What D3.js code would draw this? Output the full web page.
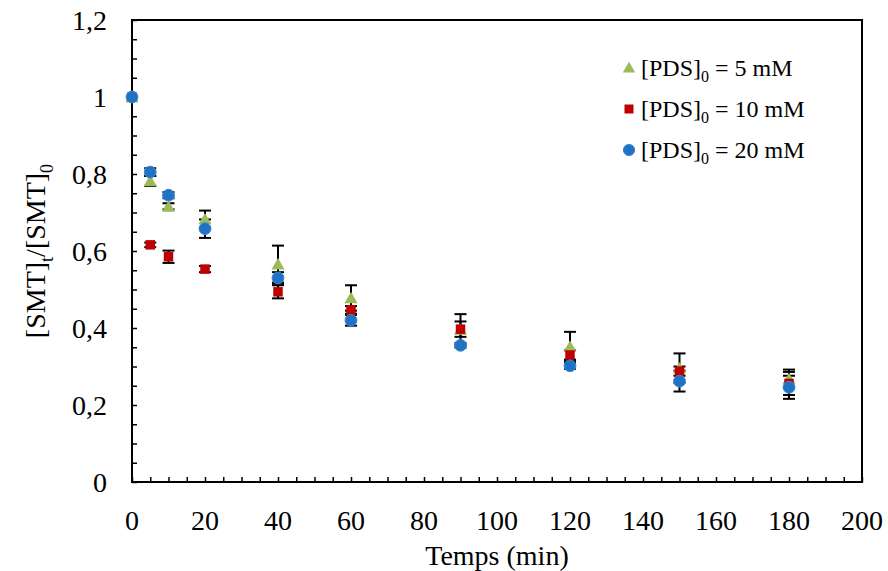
<!DOCTYPE html>
<html>
<head>
<meta charset="utf-8">
<script src="https://cdn.jsdelivr.net/npm/d3@7"></script>
<style>
  body { margin: 0; background: #fff; }
  svg text { font-family: "Liberation Serif", "Times New Roman", serif; fill: #000; }
</style>
</head>
<body>
<div id="chart"></div>
<script>
// time points (min)
const times = [0, 5, 10, 20, 40, 60, 90, 120, 150, 180];

// [SMT]t/[SMT]0 for each PDS dose, with error bars
const pds5 = [1.0, 0.782, 0.716, 0.683, 0.566, 0.478, 0.396, 0.352, 0.296, 0.268];
const pds5Err = [0, 0.013, 0.008, 0.022, 0.048, 0.033, 0.04, 0.038, 0.038, 0.024];
const pds10 = [1.0, 0.616, 0.585, 0.553, 0.494, 0.447, 0.397, 0.33, 0.288, 0.256];
const pds10Err = [0, 0.006, 0.016, 0.008, 0.017, 0.01, 0.02, 0.012, 0.012, 0.03];
const pds20 = [1.0, 0.805, 0.745, 0.658, 0.53, 0.42, 0.355, 0.302, 0.262, 0.246];
const pds20Err = [0, 0.01, 0.008, 0.024, 0.015, 0.014, 0.006, 0.008, 0.027, 0.03];

const seriesNames = ["[PDS]0 = 5 mM", "[PDS]0 = 10 mM", "[PDS]0 = 20 mM"];
const xTicks = [0, 20, 40, 60, 80, 100, 120, 140, 160, 180, 200];
const yTicks = [0, 0.2, 0.4, 0.6, 0.8, 1, 1.2];

const width = 888, height = 571;
const margin = {top: 20, right: 26, bottom: 89, left: 132};

const svg = d3.select("#chart").append("svg")
    .attr("width", width)
    .attr("height", height);

const x = d3.scaleLinear().domain([0, 200]).range([margin.left, width - margin.right]);
const y = d3.scaleLinear().domain([0, 1.2]).range([height - margin.bottom, margin.top]);

const fmt = d => d3.format("~g")(d).replace(".", ",");

// minor ticks
svg.append("g")
    .attr("transform", `translate(${margin.left},0)`)
    .call(d3.axisRight(y).tickValues(d3.range(0, 1.2001, 0.05)).tickSize(5).tickFormat(""))
    .call(g => g.select(".domain").remove())
    .selectAll("line").attr("stroke", "#000").attr("stroke-width", 1.5);

svg.append("g")
    .attr("transform", `translate(0,${height - margin.bottom})`)
    .call(d3.axisTop(x).tickValues(d3.range(0, 201, 5)).tickSize(5).tickFormat(""))
    .call(g => g.select(".domain").remove())
    .selectAll("line").attr("stroke", "#000").attr("stroke-width", 1.5);

// frame
svg.append("rect")
    .attr("x", margin.left)
    .attr("y", margin.top)
    .attr("width", width - margin.left - margin.right)
    .attr("height", height - margin.top - margin.bottom)
    .attr("fill", "none")
    .attr("stroke", "#000")
    .attr("stroke-width", 2);

// tick labels
svg.append("g")
  .selectAll("text")
  .data(yTicks)
  .join("text")
    .attr("x", margin.left - 25)
    .attr("y", d => y(d))
    .attr("dy", "0.34em")
    .attr("text-anchor", "end")
    .attr("font-size", 28)
    .text(fmt);

svg.append("g")
  .selectAll("text")
  .data(xTicks)
  .join("text")
    .attr("x", d => x(d))
    .attr("y", height - margin.bottom + 48)
    .attr("text-anchor", "middle")
    .attr("font-size", 28)
    .text(d => d);

// axis titles
svg.append("text")
    .attr("x", (x(0) + x(200)) / 2)
    .attr("y", 565)
    .attr("text-anchor", "middle")
    .attr("font-size", 28)
    .text("Temps (min)");

const yt = svg.append("text")
    .attr("transform", `translate(45,${(y(0) + y(1.2)) / 2}) rotate(-90)`)
    .attr("text-anchor", "middle")
    .attr("font-size", 28);
yt.append("tspan").text("[SMT]");
yt.append("tspan").attr("font-size", 18).attr("dy", 8).text("t");
yt.append("tspan").attr("dy", -8).text("/[SMT]");
yt.append("tspan").attr("font-size", 18).attr("dy", 8).text("0");

const colors = ["#9bbb59", "#c00000", "#1f72c4"];
const series = [
  {vals: pds5, err: pds5Err, sym: d3.symbolTriangle, size: 75},
  {vals: pds10, err: pds10Err, sym: d3.symbolSquare, size: 90},
  {vals: pds20, err: pds20Err, sym: d3.symbolCircle, size: 110}
];

// error bars
series.forEach(s => {
  const g = svg.append("g").attr("stroke", "#000").attr("stroke-width", 2);
  times.forEach((t, i) => {
    if (!s.err[i]) return;
    const cx = x(t), y1 = y(s.vals[i] + s.err[i]), y2 = y(s.vals[i] - s.err[i]);
    g.append("line").attr("x1", cx).attr("x2", cx).attr("y1", y1).attr("y2", y2);
    g.append("line").attr("x1", cx - 6).attr("x2", cx + 6).attr("y1", y1).attr("y2", y1);
    g.append("line").attr("x1", cx - 6).attr("x2", cx + 6).attr("y1", y2).attr("y2", y2);
  });
});

// markers
series.forEach((s, k) => {
  svg.append("g")
    .selectAll("path")
    .data(times)
    .join("path")
      .attr("transform", (t, i) => `translate(${x(t)},${y(s.vals[i]) + (k === 0 ? 1.5 : 0)})`)
      .attr("d", d3.symbol(s.sym, s.size))
      .attr("fill", colors[k])
      .attr("stroke", k === 2 ? "#3a86cf" : "none")
      .attr("stroke-width", 1);
});

// legend
const legend = svg.append("g");
[68, 109, 150].forEach((ly, k) => {
  legend.append("path")
    .attr("transform", `translate(629,${ly + (k === 0 ? 1 : 0)})`)
    .attr("d", d3.symbol(series[k].sym, series[k].size * 0.9))
    .attr("fill", colors[k])
    .attr("stroke", k === 2 ? "#3a86cf" : "none");
  const tx = legend.append("text")
    .attr("x", 641)
    .attr("y", ly + 8)
    .attr("font-size", 24);
  tx.append("tspan").text("[PDS]");
  tx.append("tspan").attr("font-size", 16).attr("dy", 6).text("0");
  tx.append("tspan").attr("dy", -6).text(seriesNames[k].replace("[PDS]0", ""));
});
</script>
</body>
</html>
